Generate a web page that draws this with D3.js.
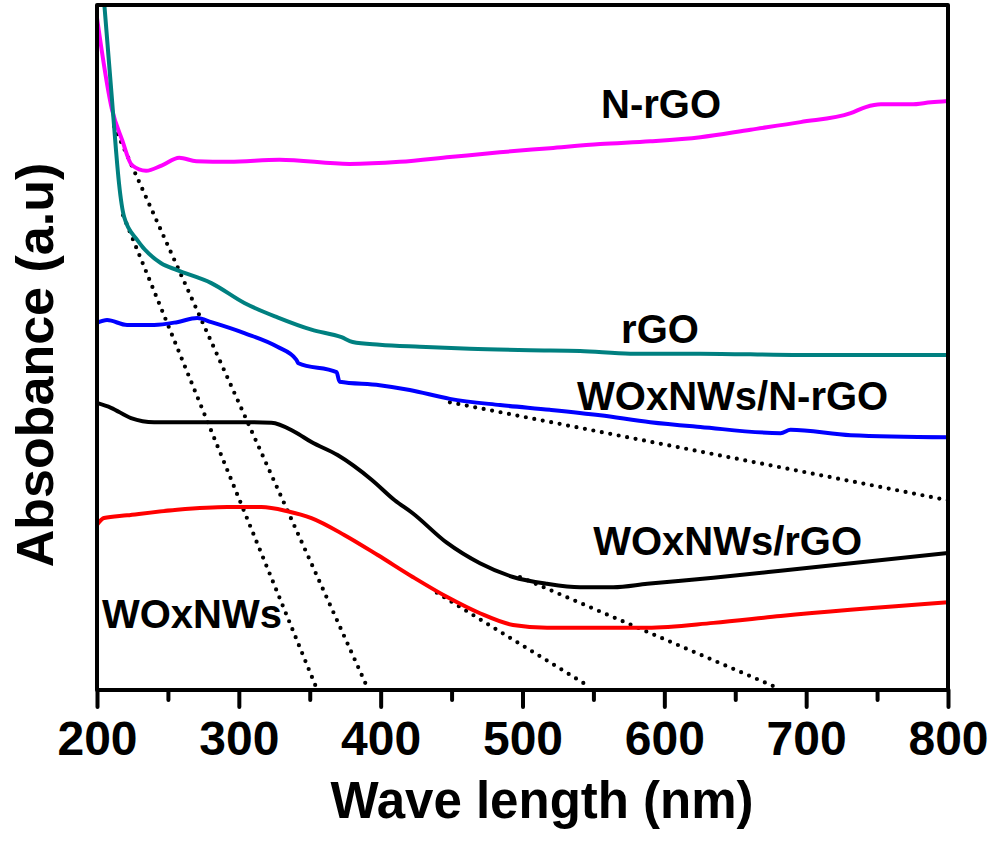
<!DOCTYPE html>
<html>
<head>
<meta charset="utf-8">
<script src="https://cdn.jsdelivr.net/npm/d3@7"></script>
<style>
  html, body { margin: 0; padding: 0; background: #fff; }
  svg { display: block; }
  text { font-family: "Liberation Sans", Arial, sans-serif; font-weight: bold; fill: #000; }
</style>
</head>
<body>
<svg id="chart" width="997" height="846"></svg>
<script>
// ---- Data (wavelength nm, absorbance arbitrary units 0-100) ----
const nrgoX = [200, 210.6, 217.7, 224.7, 234.6, 245.9, 258, 270, 293.3, 328.6, 378, 413.4, 448.8, 484, 519.4, 554.8, 590, 625.4, 660.8, 696, 731.4, 742, 752.7, 773.9, 788, 800];
const nrgoY = [98.1, 84.7, 80.3, 76.6, 75.8, 76.6, 77.7, 77.2, 77.1, 77.4, 76.8, 77.1, 77.8, 78.5, 79.1, 79.7, 80.1, 80.7, 81.8, 82.9, 84.2, 85.1, 85.5, 85.5, 85.8, 86.0];

const rgoX = [205, 210.6, 213.4, 215.5, 219.1, 228.3, 245.2, 256.5, 280.6, 303.9, 327.2, 351.2, 372.4, 380.2, 399.3, 427.6, 462.9, 505.3, 540.6, 576, 625.4, 696, 800];
const rgoY = [100.5, 86.1, 78.8, 74.0, 69.1, 65.7, 62.3, 61.3, 59.4, 56.5, 54.4, 52.6, 51.5, 50.8, 50.4, 50.1, 49.8, 49.6, 49.5, 49.1, 49.1, 48.9, 48.9];

const wnrgoX = [200, 207.1, 221.2, 240.3, 256.5, 270.7, 280.6, 303.9, 327.2, 340.6, 342.0, 368.9, 371.0, 399.3, 420.5, 448.8, 484.1, 519.4, 554.8, 590.1, 625.4, 682.0, 689.0, 731.4, 800];
const wnrgoY = [53.6, 54.0, 53.3, 53.3, 53.7, 54.3, 53.7, 52.1, 50.1, 48.2, 47.7, 46.4, 45.0, 44.5, 43.8, 42.5, 41.6, 40.9, 40.1, 39.1, 38.4, 37.5, 38.0, 37.2, 36.9];

const wrgoX = [200, 209.9, 224.0, 240.3, 268.6, 303.9, 323.0, 339.2, 351.2, 369.6, 393.6, 409.9, 422.6, 446.6, 470.0, 493.3, 517.3, 540.6, 564.0, 588.0, 634.6, 682.0, 800];
const wrgoY = [41.9, 41.2, 39.7, 39.1, 39.1, 39.1, 39.0, 37.7, 36.2, 34.3, 30.7, 27.7, 25.8, 21.5, 18.5, 16.5, 15.5, 15.0, 15.0, 15.5, 16.4, 17.4, 20.0];

const woxX = [200, 204.9, 221.2, 256.5, 291.9, 315.9, 334.3, 351.2, 374.6, 397.9, 422.6, 446.6, 470.0, 493.3, 517.3, 540.6, 588.0, 634.6, 682.0, 800];
const woxY = [24.1, 25.1, 25.5, 26.3, 26.7, 26.7, 26.1, 25.1, 22.6, 19.7, 16.5, 13.6, 11.2, 9.5, 9.1, 9.1, 9.1, 9.8, 10.8, 12.8];

// Tangent (dotted) lines: [x0, y0, x1, y1]
const tangents = [
  [218.4, 69.3, 354.1, 0.6],
  [212.0, 82.3, 390.1, 0.6],
  [448.8, 42.0, 800, 27.7],
  [498.2, 16.5, 679.9, 0.3],
  [439.6, 14.2, 546.3, 0.6]
];

const majorTicks = [200, 300, 400, 500, 600, 700, 800];
const minorTicks = [250, 350, 450, 550, 650, 750];

const seriesNames = ["N-rGO", "rGO", "WOxNWs/N-rGO", "WOxNWs/rGO", "WOxNWs"];
const seriesColors = ["#ff00ff", "#008080", "#0000ff", "#000000", "#ff0000"];
const seriesX = [nrgoX, rgoX, wnrgoX, wrgoX, woxX];
const seriesY = [nrgoY, rgoY, wnrgoY, wrgoY, woxY];

// label anchors in data coords (x nm, y value)
const labelX = [555.4, 569.5, 538.5, 549.8, 203.5];
const labelY = [83.5, 50.6, 40.9, 19.7, 9.0];

// ---- Layout ----
const mLeft = 97, mRight = 948, mTop = 5, mBottom = 690;
const svg = d3.select("#chart");

const x = d3.scaleLinear().domain([200, 800]).range([mLeft, mRight]);
const y = d3.scaleLinear().domain([0, 100]).range([mBottom, mTop]);

svg.append("defs").append("clipPath").attr("id", "clip")
  .append("rect").attr("x", mLeft).attr("y", mTop).attr("width", mRight - mLeft).attr("height", mBottom - mTop);

const plot = svg.append("g").attr("clip-path", "url(#clip)");

// dotted tangents
plot.selectAll("line.tan").data(tangents).enter().append("line")
  .attr("class", "tan")
  .attr("x1", d => x(d[0])).attr("y1", d => y(d[1]))
  .attr("x2", d => x(d[2])).attr("y2", d => y(d[3]))
  .attr("stroke", "#000").attr("stroke-width", 4.2)
  .attr("stroke-linecap", "round")
  .attr("stroke-dasharray", "0 8.6");

const line = d3.line().curve(d3.curveMonotoneX).x(d => x(d[0])).y(d => y(d[1]));

seriesNames.forEach((name, i) => {
  const pts = seriesX[i].map((v, j) => [v, seriesY[i][j]]);
  plot.append("path")
    .datum(pts)
    .attr("d", line)
    .attr("fill", "none")
    .attr("stroke", seriesColors[i])
    .attr("stroke-width", 4)
    .attr("stroke-linejoin", "round");
});

// frame
svg.append("rect")
  .attr("x", mLeft).attr("y", mTop).attr("width", mRight - mLeft).attr("height", mBottom - mTop)
  .attr("fill", "none").attr("stroke", "#000").attr("stroke-width", 4).attr("stroke-linejoin", "round");

// x axis
const xAxis = d3.axisBottom(x).tickValues(majorTicks).tickSize(17).tickFormat(d3.format("d"));
const gx = svg.append("g").attr("transform", `translate(0,${mBottom})`).call(xAxis);
gx.select(".domain").remove();
gx.selectAll(".tick line").attr("stroke", "#000").attr("stroke-width", 4).attr("stroke-linecap", "round");
gx.selectAll(".tick text")
  .attr("y", 65).attr("dy", 0)
  .style("font-family", "'Liberation Sans', Arial, sans-serif")
  .style("font-weight", "bold").style("font-size", "48px").attr("fill", "#000");

const xMinor = d3.axisBottom(x).tickValues(minorTicks).tickSize(10).tickFormat("");
const gm = svg.append("g").attr("transform", `translate(0,${mBottom})`).call(xMinor);
gm.select(".domain").remove();
gm.selectAll(".tick line").attr("stroke", "#000").attr("stroke-width", 4).attr("stroke-linecap", "round");

// axis titles
svg.append("text")
  .attr("x", 542).attr("y", 818)
  .attr("text-anchor", "middle")
  .style("font-size", "51px")
  .text("Wave length (nm)");

svg.append("text")
  .attr("transform", "translate(53,365) rotate(-90)")
  .attr("text-anchor", "middle")
  .style("font-size", "52px")
  .text("Absobance (a.u)");

// series labels
svg.selectAll("text.lbl").data(seriesNames).enter().append("text")
  .attr("class", "lbl")
  .attr("x", (d, i) => x(labelX[i]))
  .attr("y", (d, i) => y(labelY[i]))
  .style("font-size", "40px")
  .text(d => d);
</script>
</body>
</html>
